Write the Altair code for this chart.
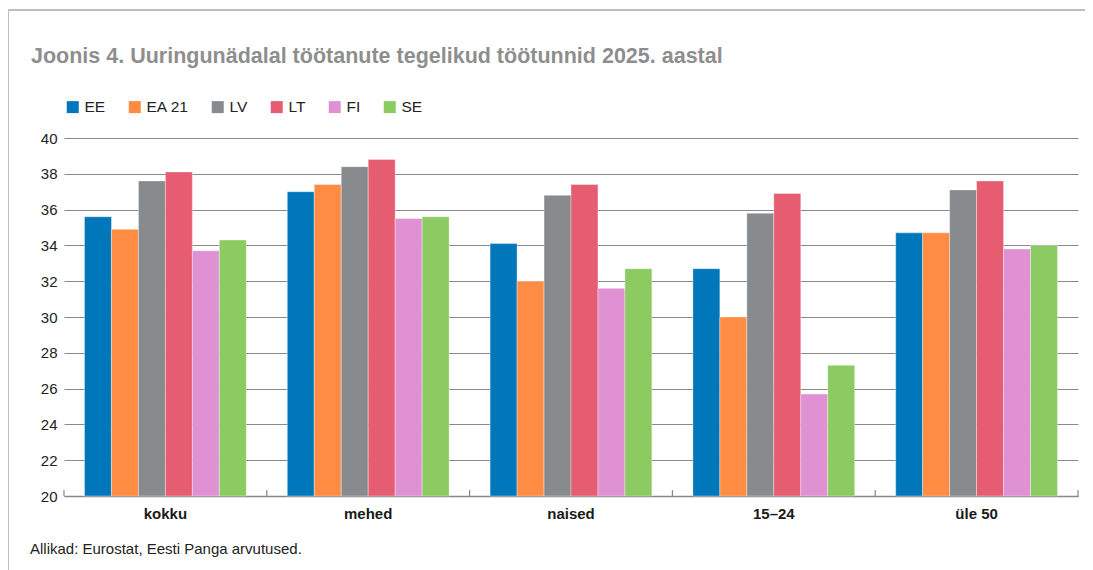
import altair as alt
import pandas as pd

TITLE = "Joonis 4. Uuringunädalal töötanute tegelikud töötunnid 2025. aastal"
SOURCE = "Allikad: Eurostat, Eesti Panga arvutused."

categories = ["kokku", "mehed", "naised", "15–24", "üle 50"]
series = ["EE", "EA 21", "LV", "LT", "FI", "SE"]
colors = ["#0077BB", "#FF8C42", "#878B8E", "#E65C70", "#E091D4", "#8BCB62"]

EE = [35.6, 37.0, 34.1, 32.7, 34.7]
EA21 = [34.9, 37.4, 32.0, 30.0, 34.7]
LV = [37.6, 38.4, 36.8, 35.8, 37.1]
LT = [38.1, 38.8, 37.4, 36.9, 37.6]
FI = [33.7, 35.5, 31.6, 25.7, 33.8]
SE = [34.3, 35.6, 32.7, 27.3, 34.0]

y_ticks = [20, 22, 24, 26, 28, 30, 32, 34, 36, 38, 40]

values_by_series = [EE, EA21, LV, LT, FI, SE]
rows = []
for s, vals in zip(series, values_by_series):
    for c, v in zip(categories, vals):
        rows.append({"category": c, "series": s, "value": v})
df = pd.DataFrame(rows)

FONT = "Liberation Sans"
W, H = 1014, 358
PL, PT, PR, PB = 56, 130, 7, 74

bars = alt.Chart(df).mark_bar(stroke="white", strokeWidth=0.6, strokeOpacity=0.6).encode(
    x=alt.X("category:N", sort=categories,
            scale=alt.Scale(paddingInner=0, paddingOuter=0),
            axis=alt.Axis(title=None, labelAngle=0, labelFontWeight="bold", labelFontSize=15,
                          labelColor="#1a1a1a", ticks=False, domain=True, domainColor="#888888",
                          domainWidth=1.5, labelPadding=10, labelFont=FONT)),
    xOffset=alt.XOffset("series:N", sort=series,
                        scale=alt.Scale(paddingInner=0, paddingOuter=0.76)),
    y=alt.Y("value:Q", scale=alt.Scale(domain=[20, 40], zero=False, nice=False),
            axis=alt.Axis(title=None, values=y_ticks, grid=True, gridColor="#8a8a8a", gridWidth=1.2,
                          domain=False, ticks=False, labelPadding=7, labelFontSize=15,
                          labelColor="#222222", labelFont=FONT)),
    y2=alt.datum(20),
    color=alt.Color("series:N", sort=series,
                    scale=alt.Scale(domain=series, range=colors),
                    legend=alt.Legend(title=None, orient="none", legendX=1, legendY=-39,
                                      direction="horizontal", symbolType="square", symbolSize=144,
                                      symbolStrokeWidth=0, labelFontSize=15.5, labelColor="#222222",
                                      labelFont=FONT, labelOffset=4, columnPadding=21)),
)

bounds = pd.DataFrame({"b": list(range(len(categories) + 1))})
ticks = alt.Chart(bounds).mark_rule(color="#888888", strokeWidth=1.2).encode(
    x=alt.X("b:Q", scale=alt.Scale(domain=[0, len(categories)], nice=False, zero=False), axis=None),
    y=alt.value(H - 6),
    y2=alt.value(H),
)

one = pd.DataFrame({"t": [SOURCE]})
frame_left = alt.Chart(one).mark_rule(color="#bdbdbd", strokeWidth=2).encode(
    x=alt.value(-PL), y=alt.value(-PT + 2), y2=alt.value(H + PB + 5))
frame_top = alt.Chart(one).mark_rule(color="#bdbdbd", strokeWidth=2).encode(
    x=alt.value(-PL), x2=alt.value(W + PR + 10), y=alt.value(-PT + 2))

source = alt.Chart(one).mark_text(align="left", baseline="middle", fontSize=15,
                                  color="#222222", font=FONT).encode(
    x=alt.value(-34), y=alt.value(411), text="t:N")

chart = alt.layer(bars, ticks, frame_left, frame_top, source).resolve_scale(
    x="independent"
).properties(
    width=W, height=H,
    title=alt.TitleParams(TITLE, anchor="start", frame="group", dx=-33, dy=58, offset=0,
                          fontSize=21.5, fontWeight="bold", color="#8e8e8e", font=FONT),
    autosize=alt.AutoSizeParams(type="none"),
    padding={"left": PL, "top": PT, "right": PR, "bottom": PB},
).configure_view(stroke=None)

chart.save("out.html", embed_options={"renderer": "svg", "actions": False})
